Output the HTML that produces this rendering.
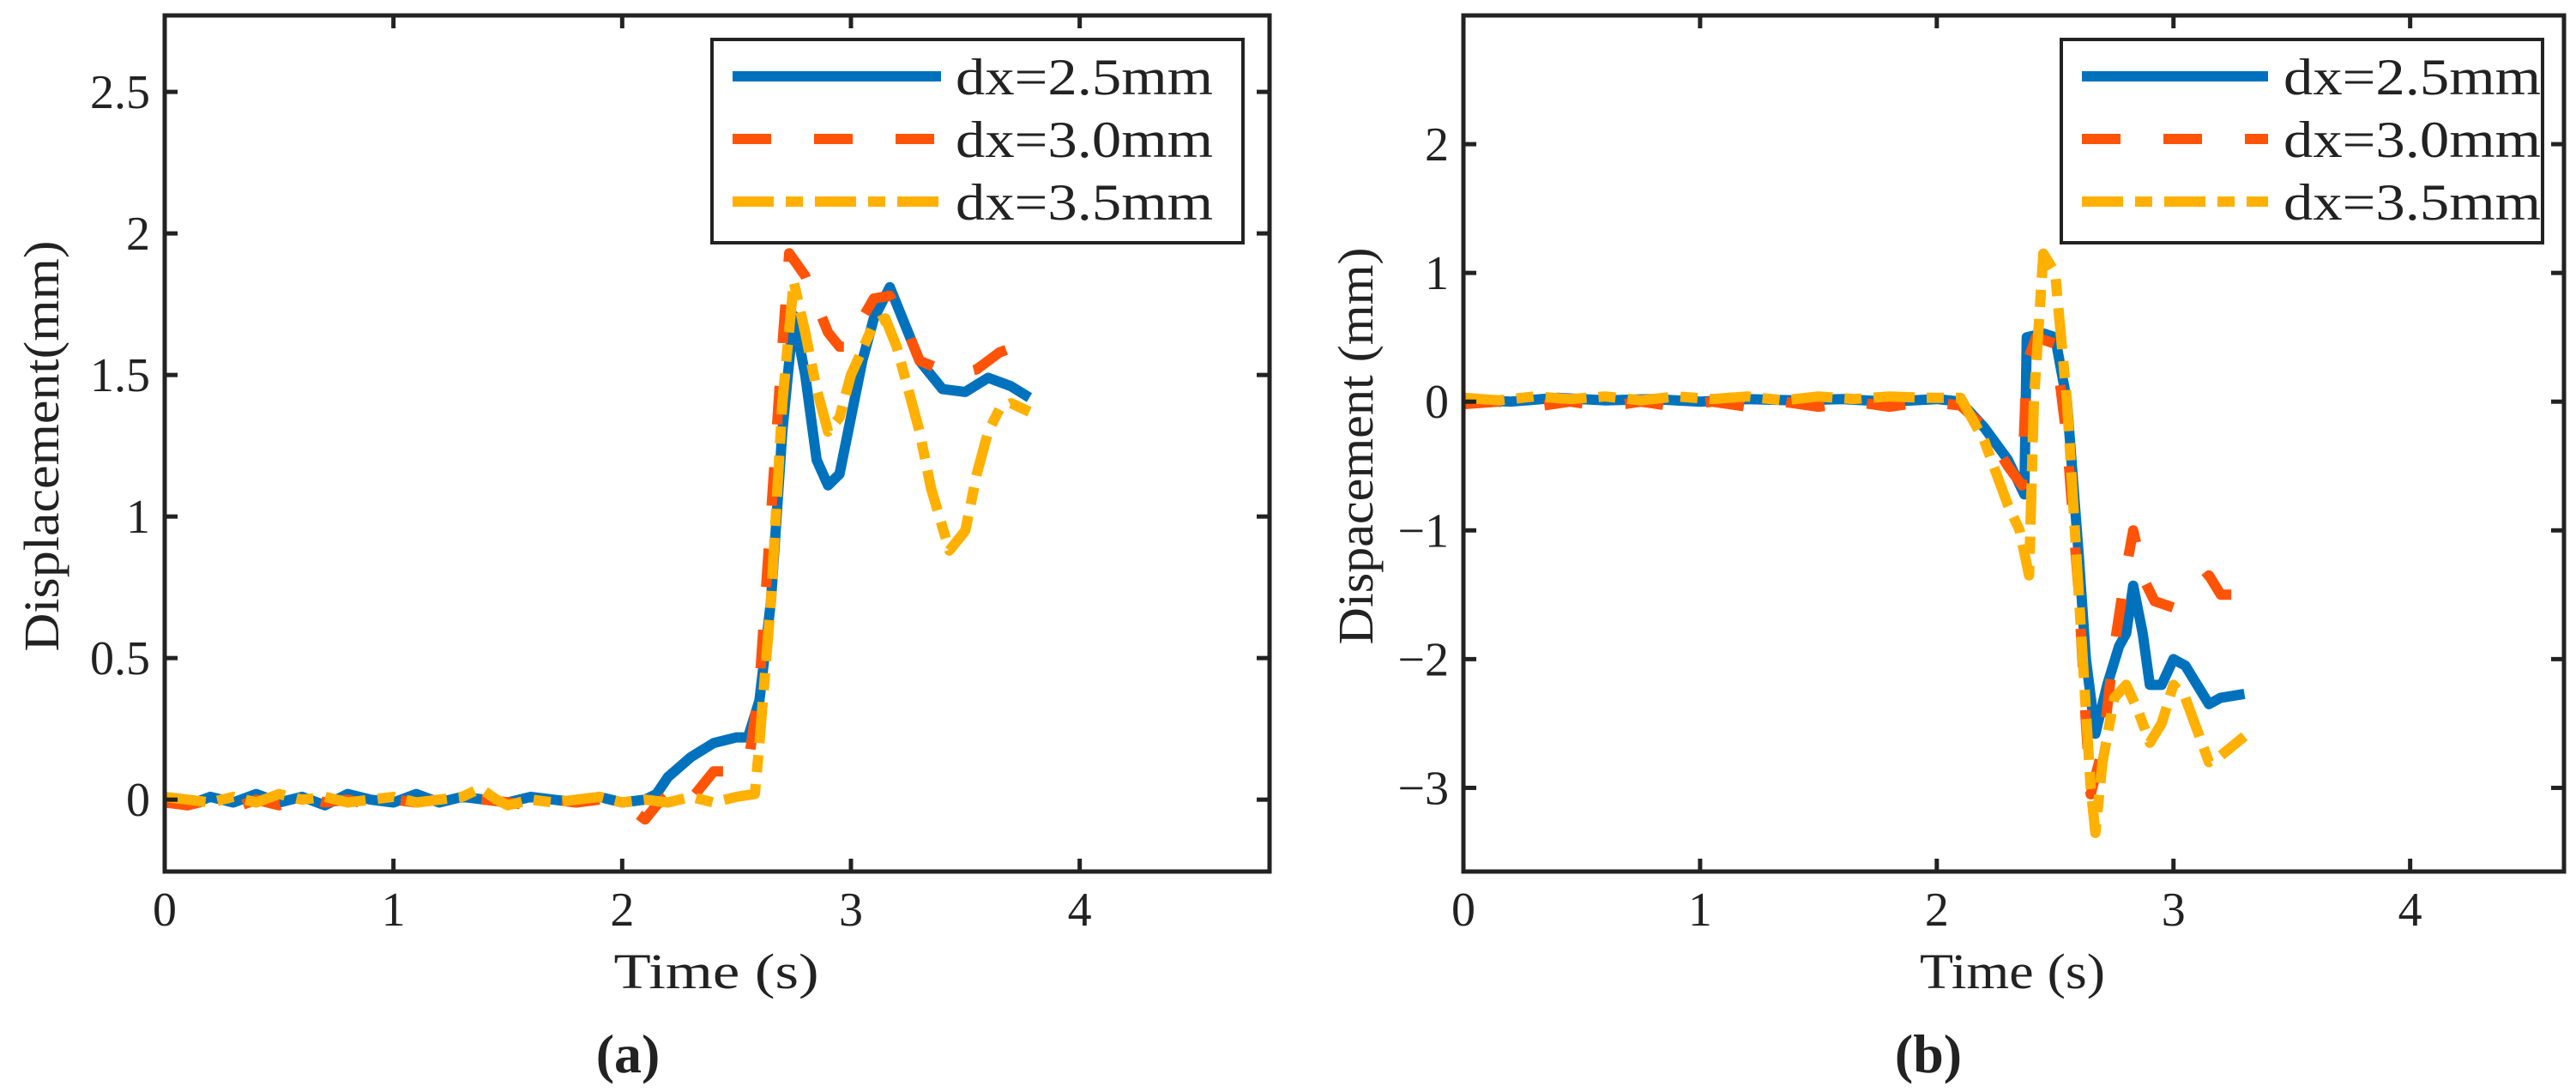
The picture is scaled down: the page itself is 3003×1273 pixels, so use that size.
<!DOCTYPE html>
<html><head><meta charset="utf-8"><style>
html,body{margin:0;padding:0;background:#fff;}
svg{display:block;}
text{font-family:"Liberation Serif",serif;fill:#222;}
</style></head><body>
<svg id="fig" width="3003" height="1273" viewBox="0 0 3003 1273">
<defs>
<clipPath id="clipA"><rect x="192" y="18" width="1288" height="998"/></clipPath>
<clipPath id="clipB"><rect x="1706" y="18" width="1283" height="998"/></clipPath>
</defs>
</svg>
<script>
// ---------- Panel (a) data ----------
const aT_blue = [0,0.1,0.2,0.3,0.4,0.5,0.6,0.7,0.8,0.9,1.0,1.1,1.2,1.3,1.4,1.5,1.6,1.7,1.8,1.9,2.0,2.1,2.15,2.2,2.3,2.4,2.5,2.55,2.6,2.65,2.7,2.75,2.8,2.85,2.9,2.95,3.0,3.05,3.1,3.17,3.25,3.3,3.4,3.5,3.6,3.7,3.78];
const aV_blue = [0,-0.02,0.01,-0.01,0.02,-0.01,0.01,-0.02,0.02,0,-0.01,0.02,-0.01,0.01,0.0,-0.01,0.01,0.0,-0.01,0.01,-0.01,0.0,0.02,0.08,0.15,0.2,0.22,0.22,0.35,0.7,1.3,1.71,1.5,1.2,1.11,1.15,1.35,1.55,1.7,1.81,1.65,1.55,1.45,1.44,1.49,1.46,1.42];
const aT_red = [0,0.1,0.2,0.3,0.4,0.5,0.6,0.7,0.8,0.9,1.0,1.1,1.2,1.3,1.4,1.5,1.6,1.7,1.8,1.9,2.0,2.1,2.15,2.25,2.3,2.4,2.5,2.55,2.6,2.65,2.7,2.73,2.8,2.85,2.9,2.95,3.0,3.05,3.1,3.17,3.25,3.3,3.45,3.55,3.65,3.72];
const aV_red = [-0.01,-0.02,0.0,-0.03,0.0,-0.02,0.01,-0.01,0.0,-0.02,0.0,-0.01,0.0,0.01,0.0,-0.01,-0.02,0.0,-0.01,0.0,-0.01,-0.07,-0.02,0.05,0.0,0.1,0.1,0.12,0.4,1.0,1.6,1.93,1.85,1.75,1.65,1.6,1.6,1.7,1.77,1.78,1.65,1.55,1.5,1.52,1.58,1.6];
const aT_yel = [0,0.1,0.2,0.3,0.4,0.5,0.6,0.7,0.8,0.9,1.0,1.1,1.2,1.3,1.38,1.45,1.5,1.6,1.7,1.8,1.9,2.0,2.1,2.2,2.3,2.4,2.5,2.58,2.6,2.65,2.7,2.75,2.8,2.85,2.9,2.95,3.0,3.1,3.15,3.2,3.3,3.35,3.43,3.5,3.55,3.6,3.65,3.7,3.78];
const aV_yel = [0.01,0.0,-0.01,0.01,-0.01,0.02,0.0,0.01,-0.01,0.0,0.01,-0.01,0.0,0.01,0.04,0.0,-0.02,0.0,-0.01,0.0,0.01,-0.01,0.0,-0.01,0.01,-0.01,0.01,0.02,0.2,0.7,1.4,1.83,1.65,1.45,1.3,1.35,1.5,1.68,1.7,1.6,1.3,1.1,0.88,0.95,1.15,1.3,1.38,1.4,1.37];
const aYTicks = [0,0.5,1,1.5,2,2.5];
const aYLabels = ["0","0.5","1","1.5","2","2.5"];
const aXTicks = [0,1,2,3,4];
const aXLabels = ["0","1","2","3","4"];

// ---------- Panel (b) data ----------
const bT_blue = [0,0.2,0.4,0.6,0.8,1.0,1.2,1.4,1.6,1.8,2.0,2.1,2.2,2.3,2.37,2.38,2.45,2.5,2.55,2.6,2.63,2.67,2.72,2.77,2.8,2.83,2.87,2.9,2.95,3.0,3.05,3.1,3.15,3.2,3.3];
const bV_blue = [0.02,0.0,0.03,0.01,0.02,0.0,0.02,0.01,0.02,0.0,0.02,0.0,-0.2,-0.45,-0.72,0.5,0.53,0.5,0.0,-1.2,-2.0,-2.58,-2.2,-1.9,-1.8,-1.43,-1.8,-2.2,-2.2,-2.0,-2.05,-2.2,-2.35,-2.3,-2.27];
const bT_red = [0,0.15,0.3,0.45,0.6,0.75,0.9,1.05,1.2,1.35,1.5,1.65,1.8,1.95,2.1,2.2,2.3,2.36,2.38,2.42,2.5,2.55,2.6,2.63,2.65,2.7,2.75,2.8,2.83,2.88,2.92,3.0,3.05,3.15,3.2,3.3];
const bV_red = [-0.02,0.0,-0.04,0.0,-0.04,0.0,-0.04,0.0,-0.04,0.0,-0.04,0.0,-0.04,0.0,-0.03,-0.2,-0.5,-0.65,0.3,0.5,0.45,-0.3,-1.5,-2.5,-3.05,-2.7,-1.9,-1.3,-1.0,-1.4,-1.55,-1.6,-1.5,-1.35,-1.5,-1.5];
const bT_yel = [0,0.15,0.3,0.45,0.6,0.75,0.9,1.05,1.2,1.35,1.5,1.65,1.8,1.95,2.1,2.2,2.3,2.35,2.39,2.41,2.45,2.5,2.55,2.6,2.65,2.67,2.7,2.75,2.8,2.85,2.9,2.95,3.0,3.05,3.15,3.2,3.3];
const bV_yel = [0.03,0.01,0.04,0.02,0.04,0.01,0.04,0.02,0.04,0.01,0.04,0.02,0.04,0.03,0.03,-0.3,-0.8,-1.0,-1.35,0.0,1.15,1.0,0.0,-1.5,-3.0,-3.35,-2.8,-2.3,-2.2,-2.4,-2.65,-2.5,-2.2,-2.3,-2.8,-2.75,-2.6];
const bYTicks = [-3,-2,-1,0,1,2];
const bYLabels = ["\u22123","\u22122","\u22121","0","1","2"];
const bXTicks = [0,1,2,3,4];
const bXLabels = ["0","1","2","3","4"];

const seriesNames = ["dx=2.5mm","dx=3.0mm","dx=3.5mm"];

const NS = "http://www.w3.org/2000/svg";
const svg = document.getElementById('fig');
function mk(tag, attrs, parent){
  const e = document.createElementNS(NS, tag);
  for (const k in attrs) e.setAttribute(k, attrs[k]);
  (parent||svg).appendChild(e);
  return e;
}
const styles = [
  {color:"#0072BD", dash:"none"},
  {color:"#FF5308", dash:"45 50"},
  {color:"#FFB000", dash:"48 14 20 14"}
];

function panel(cfg){
  const g = mk('g', {});
  
  
  const sx = t => cfg.x0 + (t - cfg.xmin) / (cfg.xmax - cfg.xmin) * (cfg.x1 - cfg.x0);
  const sy = v => cfg.y1 - (v - cfg.ymin) / (cfg.ymax - cfg.ymin) * (cfg.y1 - cfg.y0);
  // series
  const sg = mk('g', {'clip-path':'url(#'+cfg.clip+')'}, g);
  
  
  cfg.series.forEach((s, i) => {
    let d = '';
    s.t.forEach((t, j) => { d += (j ? 'L' : 'M') + sx(t).toFixed(1) + ',' + sy(s.v[j]).toFixed(1); });
    const p = mk('path', {d:d, fill:'none', stroke:styles[i].color, 'stroke-width':12, 'stroke-linejoin':'round', 'stroke-dasharray':styles[i].dash}, sg);
    
    
  });
  // box
  const box = mk('rect', {x:cfg.x0, y:cfg.y0, width:cfg.x1-cfg.x0, height:cfg.y1-cfg.y0, fill:'none', stroke:'#222', 'stroke-width':5}, g);
  
  
  // ticks
  cfg.xTicks.forEach((t, i) => {
    const x = sx(t);
    mk('line', {x1:x, x2:x, y1:cfg.y1, y2:cfg.y1-15, stroke:'#222', 'stroke-width':5}, g);
    mk('line', {x1:x, x2:x, y1:cfg.y0, y2:cfg.y0+15, stroke:'#222', 'stroke-width':5}, g);
    const tx = mk('text', {x:x, y:cfg.y1+63, 'font-size':56, 'text-anchor':'middle'}, g);
    tx.textContent = cfg.xLabels[i];
    
    
  });
  cfg.yTicks.forEach((v, i) => {
    const y = sy(v);
    mk('line', {x1:cfg.x0, x2:cfg.x0+15, y1:y, y2:y, stroke:'#222', 'stroke-width':5}, g);
    mk('line', {x1:cfg.x1, x2:cfg.x1-15, y1:y, y2:y, stroke:'#222', 'stroke-width':5}, g);
    const tx = mk('text', {x:cfg.x0-17, y:y+19, 'font-size':56, 'text-anchor':'end'}, g);
    tx.textContent = cfg.yLabels[i];
    
    
  });
  // axis titles
  const xl = mk('text', {x:cfg.xlx, y:1152, 'font-size':58, 'text-anchor':'middle', textLength:cfg.xlw, lengthAdjust:'spacingAndGlyphs'}, g);
  xl.textContent = 'Time (s)';
  
  
  const yl = mk('text', {x:0, y:0, 'font-size':58, 'text-anchor':'middle', textLength:cfg.ylw, lengthAdjust:'spacingAndGlyphs', transform:'translate('+cfg.ylx+',520) rotate(-90)'}, g);
  yl.textContent = cfg.ytitle;
  
  
  const pl = mk('text', {x:cfg.plx, y:1250, 'font-size':64, 'font-weight':'bold', 'text-anchor':'middle'}, g);
  pl.textContent = cfg.plabel;
  
  
  // legend
  const lg = mk('g', {}, g);
  
  
  mk('rect', {x:cfg.lx0, y:46, width:cfg.lx1-cfg.lx0, height:237, fill:'#fff', stroke:'#222', 'stroke-width':4}, lg);
  const rows = [89, 162, 235];
  seriesNames.forEach((n, i) => {
    const e = mk('g', {}, lg);
    
    
    mk('line', {x1:cfg.lx0+24, x2:cfg.lx0+24+cfg.llen, y1:rows[i], y2:rows[i], stroke:styles[i].color, 'stroke-width':12, 'stroke-dasharray':styles[i].dash}, e);
    const t = mk('text', {x:cfg.lx0+cfg.ltx, y:rows[i]+21, 'font-size':60, textLength:300, lengthAdjust:'spacingAndGlyphs'}, e);
    t.textContent = n;
  });
}

panel({name:'panel-a', clip:'clipA', x0:192, x1:1480, y0:18, y1:1016, xmin:0, xmax:4.83, ymin:-0.254, ymax:2.77,
  series:[{t:aT_blue,v:aV_blue},{t:aT_red,v:aV_red},{t:aT_yel,v:aV_yel}],
  xTicks:aXTicks, xLabels:aXLabels, yTicks:aYTicks, yLabels:aYLabels,
  xlx:835, xlw:239, ylx:68, ylw:479, ytitle:'Displacement(mm)', plx:732, plabel:'(a)',
  lx0:830, lx1:1449, llen:243, ltx:284});
panel({name:'panel-b', clip:'clipB', x0:1706, x1:2989, y0:18, y1:1016, xmin:0, xmax:4.65, ymin:-3.65, ymax:3.0,
  series:[{t:bT_blue,v:bV_blue},{t:bT_red,v:bV_red},{t:bT_yel,v:bV_yel}],
  xTicks:bXTicks, xLabels:bXLabels, yTicks:bYTicks, yLabels:bYLabels,
  xlx:2346, xlw:216, ylx:1600, ylw:463, ytitle:'Dispacement (mm)', plx:2248, plabel:'(b)',
  lx0:2403, lx1:2964, llen:217, ltx:259});
</script>
</body></html>
